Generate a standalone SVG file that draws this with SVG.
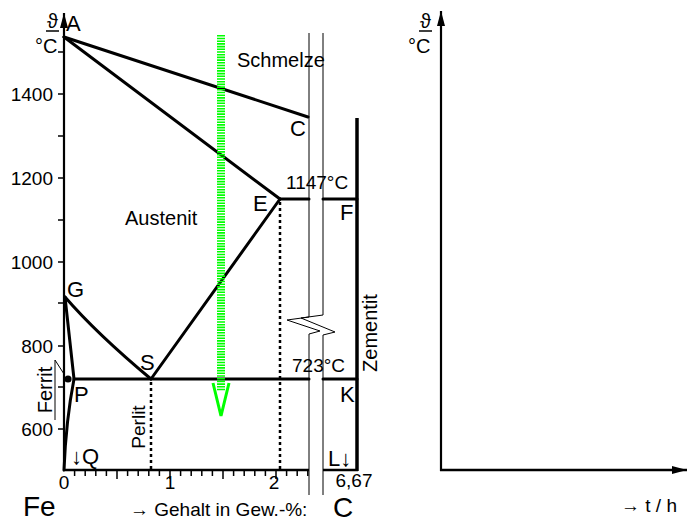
<svg xmlns="http://www.w3.org/2000/svg" width="687" height="522" viewBox="0 0 687 522">
<defs>
<style>
text{font-family:"Liberation Sans",Arial,"DejaVu Sans",sans-serif;fill:#000}
.t{font-size:20px}
.pt{font-size:22px}
.tk{font-size:19px}
.big{font-size:28px}
.thick{stroke:#000;stroke-width:3;fill:none;stroke-linecap:round;stroke-linejoin:round}
.axis{stroke:#000;stroke-width:2.2;fill:none}
.thin{stroke:#000;stroke-width:1;fill:none}
.tick{stroke:#000;stroke-width:1.5}
.dot{stroke:#000;stroke-width:2.5;stroke-dasharray:3 3;fill:none}
</style>
<marker id="ah" markerWidth="16" markerHeight="10" refX="15" refY="5" orient="auto" markerUnits="userSpaceOnUse">
<path d="M0,1 L15,5 L0,9 Z" fill="#000"/>
</marker>
</defs>
<rect width="687" height="522" fill="#fff"/>

<g id="axes-left">
<line class="axis" x1="64" y1="471" x2="64" y2="13" marker-end="url(#ah)"/>
<path class="axis" d="M63,470 H309 M323,470 H358" style="stroke-width:2.6"/>
<g class="tick">
<line x1="58" y1="52" x2="64" y2="52"/>
<line x1="58" y1="94" x2="64" y2="94"/>
<line x1="58" y1="136" x2="64" y2="136"/>
<line x1="58" y1="178" x2="64" y2="178"/>
<line x1="58" y1="220" x2="64" y2="220"/>
<line x1="58" y1="262" x2="64" y2="262"/>
<line x1="58" y1="303" x2="64" y2="303"/>
<line x1="58" y1="346" x2="64" y2="346"/>
<line x1="58" y1="387" x2="64" y2="387"/>
<line x1="58" y1="429" x2="64" y2="429"/>
</g>
<path class="tick" d="M74.6,470v6 M85.2,470v6 M95.8,470v6 M106.4,470v6 M117,470v9 M127.6,470v6 M138.2,470v6 M148.8,470v6 M159.4,470v6 M170,470v9 M180.6,470v6 M191.2,470v6 M201.8,470v6 M212.4,470v6 M223,470v9 M233.6,470v6 M244.2,470v6 M254.8,470v6 M265.4,470v6 M276,470v9 M286.6,470v6 M297.2,470v6 M307.8,470v6"/>
<text class="tk" x="53" y="101" text-anchor="end">1400</text>
<text class="tk" x="53" y="185" text-anchor="end">1200</text>
<text class="tk" x="53" y="269" text-anchor="end">1000</text>
<text class="tk" x="53" y="353" text-anchor="end">800</text>
<text class="tk" x="53" y="436" text-anchor="end">600</text>
<text class="tk" x="64" y="489" text-anchor="middle">0</text>
<text class="tk" x="170" y="489" text-anchor="middle">1</text>
<text class="tk" x="274" y="489" text-anchor="middle">2</text>
<text class="tk" x="354" y="487" text-anchor="middle">6,67</text>
<text class="t" x="47" y="28">ϑ</text>
<line x1="46" y1="31" x2="59" y2="31" stroke="#000" stroke-width="1.5"/>
<text class="t" x="35" y="53">°C</text>
<text class="big" x="23" y="516">Fe</text>
<text class="tk" x="130" y="516">→ Gehalt in Gew.-%:</text>
<text class="big" x="333" y="517">C</text>
</g>

<g id="connectors">
<line class="thick" x1="64" y1="37" x2="308" y2="117"/>
<line class="thick" x1="64" y1="37" x2="280" y2="199"/>
<path class="thick" d="M280,199 H309 M323,199 H357"/>
<line class="thick" x1="357" y1="118" x2="357" y2="471" style="stroke-width:3.5;stroke-linecap:butt"/>
<path class="thick" d="M65,297 Q97,334 151,379"/>
<line class="thick" x1="151" y1="379" x2="280" y2="199"/>
<path class="thick" d="M65,297 L74,379 Q66,420 64,470"/>
<path class="thick" d="M74,379 H309 M323,379 H357"/>
<line class="dot" x1="151" y1="382" x2="151" y2="470"/>
<line class="dot" x1="280" y1="202" x2="280" y2="470"/>
<circle cx="68" cy="379" r="3.6" fill="#000"/>
<path class="thin" d="M55,360 L64,374 M55,360 V420"/>
<path class="thin" d="M309,33 V317 L287,320 L320,331 L309,334 V495"/>
<path class="thin" d="M323,33 V315 L301,318 L335,332 L323,335 V495"/>
</g>

<g id="green-arrow">
<line x1="221" y1="35" x2="221" y2="391" stroke="#00ff00" stroke-width="8" stroke-dasharray="1.6 1.1"/>
<polyline points="213,383 221,416 229,383" fill="none" stroke="#00ff00" stroke-width="3" stroke-linejoin="miter"/>
</g>

<g id="labels">
<text class="pt" x="66" y="31">A</text>
<text class="pt" x="290" y="136">C</text>
<text class="pt" x="253" y="211">E</text>
<text class="pt" x="340" y="220">F</text>
<text class="pt" x="67" y="297">G</text>
<text class="pt" x="140" y="370">S</text>
<text class="pt" x="74" y="402">P</text>
<text class="pt" x="340" y="402">K</text>
<text class="pt" x="71" y="464">↓Q</text>
<text class="pt" x="328" y="466">L↓</text>
<text class="t" x="237" y="67">Schmelze</text>
<text class="t" x="125" y="225">Austenit</text>
<text class="tk" x="286" y="189">1147°C</text>
<text class="tk" x="292" y="372">723°C</text>
<text class="t" transform="translate(377,333) rotate(-90)" text-anchor="middle">Zementit</text>
<text class="tk" transform="translate(145,427) rotate(-90)" text-anchor="middle">Perlit</text>
<text class="t" transform="translate(52,390) rotate(-90)" text-anchor="middle">Ferrit</text>
</g>

<g id="axes-right">
<line class="axis" x1="441" y1="471" x2="441" y2="11" marker-end="url(#ah)"/>
<line class="axis" x1="440" y1="470" x2="687" y2="470" marker-end="url(#ah)" style="stroke-width:2.6"/>
<text class="t" x="420" y="28">ϑ</text>
<line x1="419" y1="31" x2="432" y2="31" stroke="#000" stroke-width="1.5"/>
<text class="t" x="408" y="53">°C</text>
<text class="tk" x="621" y="512">→ t / h</text>
</g>
</svg>
